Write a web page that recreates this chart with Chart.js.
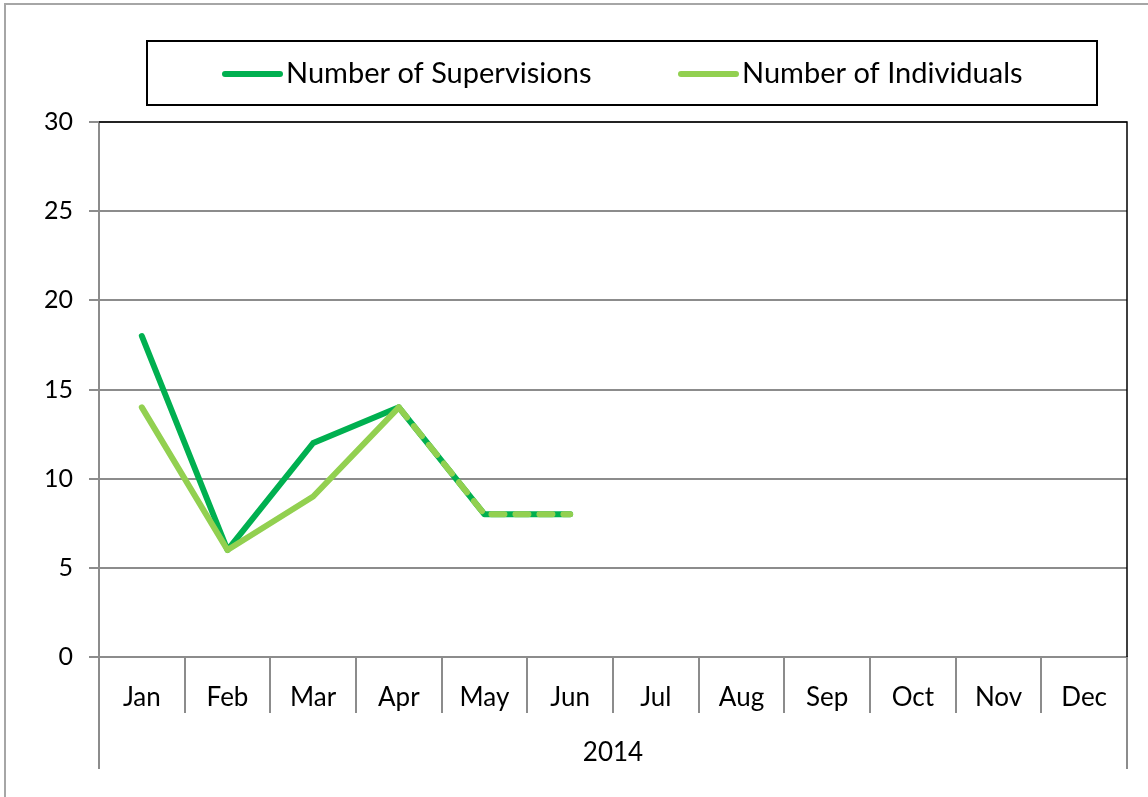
<!DOCTYPE html>
<html>
<head>
<meta charset="utf-8">
<script src="https://cdn.jsdelivr.net/npm/chart.js@4"></script>
<style>
  html, body { margin: 0; padding: 0; background: #fff; }
  #wrap { width: 1148px; height: 797px; position: relative; }
</style>
</head>
<body>
<div id="wrap"><canvas id="lineChart"></canvas></div>
<script>
// Chart data
const months = ['Jan', 'Feb', 'Mar', 'Apr', 'May', 'Jun', 'Jul', 'Aug', 'Sep', 'Oct', 'Nov', 'Dec'];
const yearLabel = '2014';
const supervisions = [18, 6, 12, 14, 8, 8, null, null, null, null, null, null];
const individuals = [14, 6, 9, 14, 8, 8, null, null, null, null, null, null];
const yTicks = [0, 5, 10, 15, 20, 25, 30];

const FONT = 'Lato, "Open Sans", sans-serif';
const GRID = '#8c8c8c';

// Frame, plot border, legend box and the "2014" group level
const framePlugin = {
    id: 'frame',
    beforeDraw(chart) {
        const ctx = chart.ctx;
        ctx.save();
        ctx.strokeStyle = '#a6a6a6';
        ctx.lineWidth = 2;
        ctx.strokeRect(5, 4, 1300, 1000);
        ctx.restore();
    },
    afterDraw(chart) {
        const ctx = chart.ctx;
        const area = chart.chartArea;
        ctx.save();

        // black plot border on top and right
        ctx.strokeStyle = '#000';
        ctx.lineWidth = 1.5;
        ctx.beginPath();
        ctx.moveTo(area.left, area.top);
        ctx.lineTo(area.right, area.top);
        ctx.lineTo(area.right, area.bottom);
        ctx.stroke();

        // outer edges of the multi-level category axis
        ctx.strokeStyle = GRID;
        ctx.lineWidth = 2;
        ctx.beginPath();
        ctx.moveTo(area.left, area.bottom);
        ctx.lineTo(area.left, 769);
        ctx.moveTo(area.right, area.bottom);
        ctx.lineTo(area.right, 769);
        ctx.stroke();

        // year label
        ctx.fillStyle = '#000';
        ctx.font = '26px ' + FONT;
        ctx.textAlign = 'center';
        ctx.textBaseline = 'middle';
        ctx.fillText(yearLabel, (area.left + area.right) / 2, 753);

        // legend box
        ctx.strokeStyle = '#000';
        ctx.lineWidth = 2;
        ctx.strokeRect(147, 41, 950, 64);
        const items = [[225, 0], [681, 1]];
        ctx.font = '29px ' + FONT;
        ctx.textAlign = 'left';
        items.forEach(([lx, i]) => {
            const ds = chart.data.datasets[i];
            ctx.strokeStyle = ds.borderColor;
            ctx.lineWidth = 6;
            ctx.lineCap = 'round';
            ctx.beginPath();
            ctx.moveTo(lx, 74);
            ctx.lineTo(lx + 55, 74);
            ctx.stroke();
            ctx.fillStyle = '#000';
            ctx.fillText(ds.label, lx + 61, 74);
        });
        ctx.restore();
    }
};

document.addEventListener('DOMContentLoaded', function() {
    const ctx = document.getElementById('lineChart').getContext('2d');

    new Chart(ctx, {
        type: 'line',
        data: {
            labels: months,
            datasets: [{
                label: 'Number of Supervisions',
                data: supervisions,
                borderColor: '#00b050',
                backgroundColor: '#00b050',
                borderWidth: 6,
                pointRadius: 0,
                borderJoinStyle: 'round',
                borderCapStyle: 'round',
                tension: 0,
                order: 2
            }, {
                label: 'Number of Individuals',
                data: individuals,
                borderColor: '#92d050',
                backgroundColor: '#92d050',
                borderWidth: 6,
                pointRadius: 0,
                borderJoinStyle: 'round',
                borderCapStyle: 'round',
                tension: 0,
                order: 1,
                segment: {
                    borderDash: c => c.p0DataIndex >= 3 ? [13, 11] : undefined
                }
            }]
        },
        options: {
            responsive: true,
            maintainAspectRatio: false,
            animation: false,
            layout: {
                padding: { left: 0, top: 122, right: 21, bottom: 0 }
            },
            scales: {
                x: {
                    offset: true,
                    border: { color: GRID, width: 2 },
                    grid: {
                        offset: true,
                        drawOnChartArea: false,
                        drawTicks: true,
                        tickLength: 56,
                        color: GRID,
                        lineWidth: 2
                    },
                    ticks: {
                        color: '#000',
                        font: { family: FONT, size: 26 },
                        padding: -31,
                        maxRotation: 0,
                        autoSkip: false
                    },
                    afterFit: s => { s.height = 140; }
                },
                y: {
                    min: 0,
                    max: 30,
                    afterBuildTicks: s => { s.ticks = yTicks.map(v => ({ value: v })); },
                    border: { color: GRID, width: 2 },
                    grid: {
                        color: GRID,
                        lineWidth: 2,
                        tickLength: 10
                    },
                    ticks: {
                        color: '#000',
                        font: { family: FONT, size: 25 },
                        padding: 16
                    },
                    afterFit: s => { s.width = 99; }
                }
            },
            plugins: {
                legend: { display: false },
                tooltip: { enabled: false }
            }
        },
        plugins: [framePlugin]
    });
});
</script>
</body>
</html>
